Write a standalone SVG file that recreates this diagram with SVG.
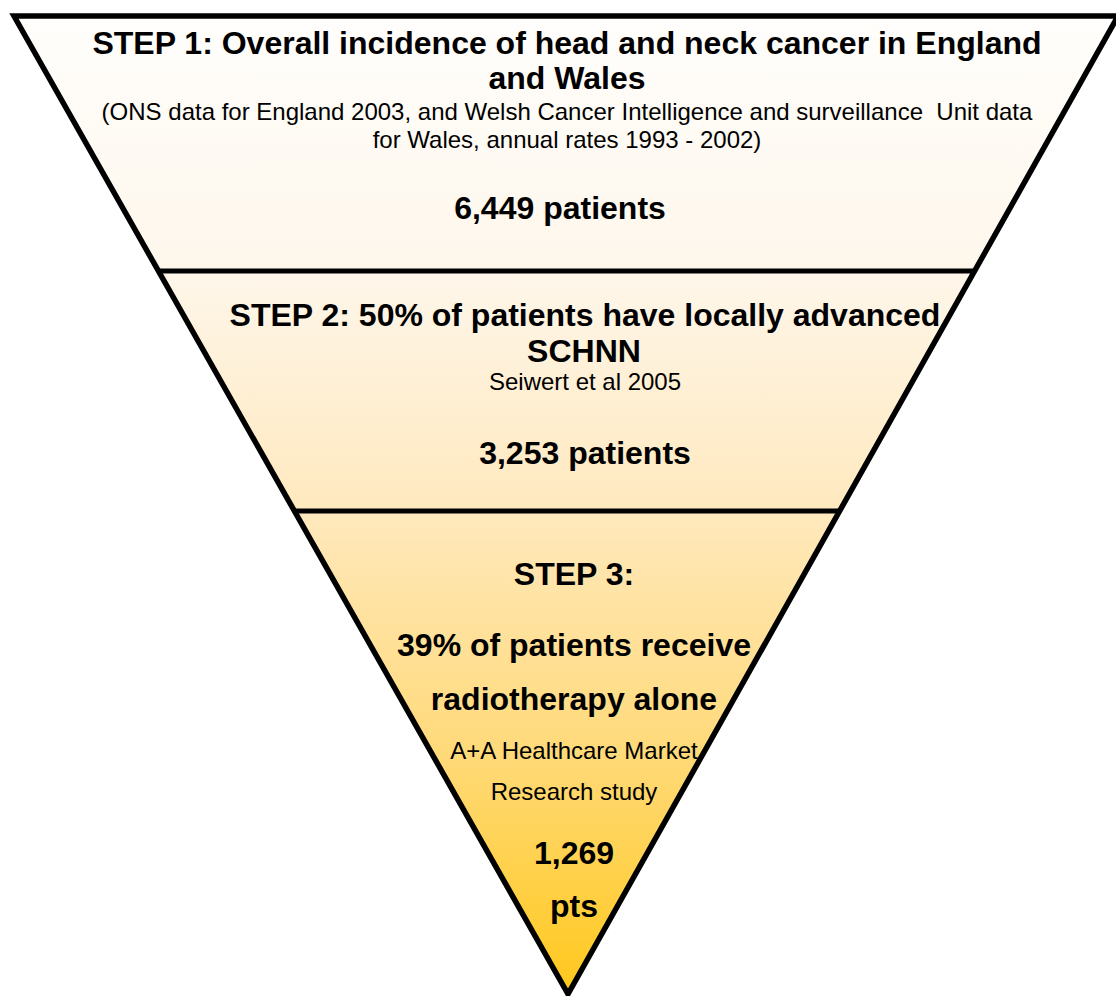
<svg xmlns="http://www.w3.org/2000/svg" width="1116" height="996" viewBox="0 0 1116 996">
<defs>
<linearGradient id="fillGrad" x1="0" y1="16" x2="0" y2="994" gradientUnits="userSpaceOnUse">
<stop offset="0" stop-color="#FFFEFC"/>
<stop offset="0.25" stop-color="#FEF7EC"/>
<stop offset="0.5" stop-color="#FFE9BF"/>
<stop offset="0.75" stop-color="#FFDA7A"/>
<stop offset="1" stop-color="#FFC81C"/>
</linearGradient>
<clipPath id="tri"><polygon points="14,16 1118,16 568,994"/></clipPath>
</defs>
<style>
.b{font-family:"Liberation Sans",Arial,sans-serif;font-weight:bold;font-size:32px;fill:#000;text-anchor:middle}
.r{font-family:"Liberation Sans",Arial,sans-serif;font-size:24px;fill:#000;text-anchor:middle;white-space:pre}
.div{stroke:#000;stroke-width:5}
</style>
<rect width="1116" height="996" fill="#FFFFFF"/>
<g id="funnel">
<polygon points="14,16 1118,16 568,994" fill="url(#fillGrad)"/>
</g>
<g id="connectors" clip-path="url(#tri)">
<line class="div" x1="0" y1="271" x2="1116" y2="271"/>
<line class="div" x1="0" y1="511" x2="1116" y2="511"/>
</g>
<g id="outline">
<polygon points="14,16 1118,16 568,994" fill="none" stroke="#000" stroke-width="5.5" stroke-linejoin="miter"/>
</g>
<g id="step1">
<text class="b" x="567" y="54">STEP 1: Overall incidence of head and neck cancer in England</text>
<text class="b" x="567" y="89">and Wales</text>
<text class="r" x="567" y="120" xml:space="preserve">(ONS data for England 2003, and Welsh Cancer Intelligence and surveillance  Unit data</text>
<text class="r" x="567" y="148">for Wales, annual rates 1993 - 2002)</text>
<text class="b" x="560" y="219">6,449 patients</text>
</g>
<g id="step2">
<text class="b" x="585" y="326">STEP 2: 50% of patients have locally advanced</text>
<text class="b" x="584" y="362">SCHNN</text>
<text class="r" x="585" y="390">Seiwert et al 2005</text>
<text class="b" x="585" y="464">3,253 patients</text>
</g>
<g id="step3">
<text class="b" x="574" y="585">STEP 3:</text>
<text class="b" x="574" y="656">39% of patients receive</text>
<text class="b" x="574" y="710">radiotherapy alone</text>
<text class="r" x="574" y="759">A+A Healthcare Market</text>
<text class="r" x="574" y="800">Research study</text>
<text class="b" x="574" y="864">1,269</text>
<text class="b" x="574" y="917">pts</text>
</g>
</svg>
